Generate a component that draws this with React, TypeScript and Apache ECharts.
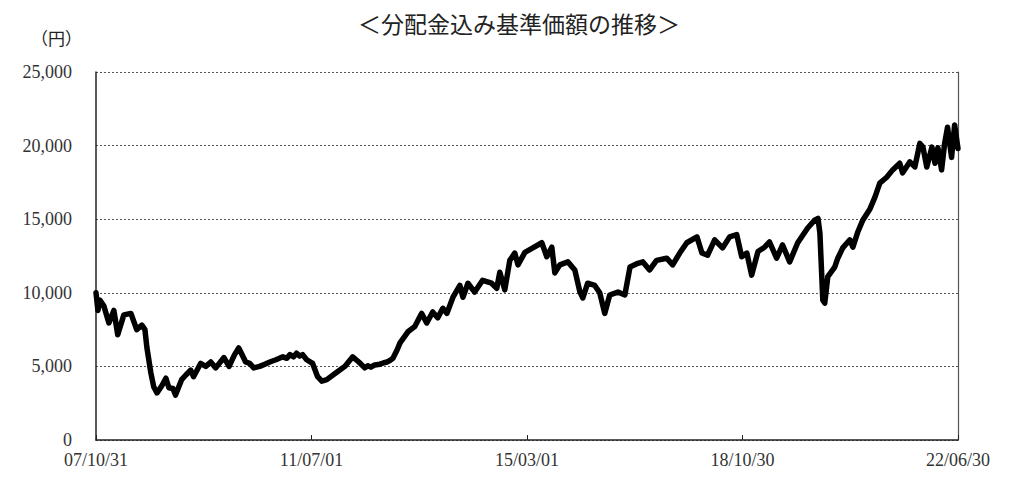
import React, { useEffect, useRef } from "react";
import * as echarts from "echarts";

const titleText = "＜分配金込み基準価額の推移＞";
const unitText = "（円）";

const dates: string[] = [
  "2007-10-31","2007-11-12","2007-11-25","2007-12-19","2008-01-19","2008-02-19","2008-03-14","2008-04-21",
  "2008-06-04","2008-07-10","2008-08-11","2008-08-30","2008-09-11","2008-10-06","2008-10-24","2008-11-13",
  "2008-12-14","2009-01-07","2009-01-26","2009-02-20","2009-03-08","2009-04-15","2009-05-10","2009-06-10",
  "2009-06-28","2009-08-11","2009-09-12","2009-10-13","2009-11-13","2010-01-03","2010-02-04","2010-03-10",
  "2010-04-05","2010-05-18","2010-06-12","2010-07-07","2010-08-13","2010-09-14","2010-10-15","2010-11-22",
  "2011-01-04","2011-01-29","2011-02-17","2011-03-12","2011-03-30","2011-04-18","2011-05-07","2011-06-01",
  "2011-07-08","2011-08-08","2011-09-03","2011-10-04","2011-12-05","2012-01-24","2012-03-13","2012-04-20",
  "2012-05-27","2012-06-15","2012-07-04","2012-07-28","2012-08-29","2012-09-23","2012-10-12","2012-10-30",
  "2012-11-18","2012-12-13","2013-01-01","2013-02-19","2013-04-02","2013-05-15","2013-06-16","2013-07-23",
  "2013-08-23","2013-09-24","2013-10-19","2013-11-26","2014-01-08","2014-01-27","2014-02-27","2014-04-10",
  "2014-05-29","2014-07-24","2014-08-25","2014-09-13","2014-10-14","2014-11-14","2014-12-15","2015-01-04",
  "2015-02-16","2015-04-06","2015-06-01","2015-07-02","2015-08-02","2015-08-21","2015-09-21","2015-11-10",
  "2015-12-23","2016-01-24","2016-02-11","2016-03-12","2016-04-25","2016-05-26","2016-06-26","2016-07-27",
  "2016-09-16","2016-10-29","2016-11-30","2017-01-18","2017-02-18","2017-04-01","2017-05-14","2017-07-16",
  "2017-08-22","2017-10-05","2017-11-18","2018-01-20","2018-02-20","2018-03-27","2018-05-10","2018-06-28",
  "2018-08-11","2018-09-24","2018-10-25","2018-11-26","2018-12-26","2019-02-03","2019-03-16","2019-04-16",
  "2019-05-30","2019-07-06","2019-08-19","2019-10-08","2019-12-09","2020-01-23","2020-02-11","2020-02-23",
  "2020-03-12","2020-03-24","2020-04-12","2020-05-25","2020-06-13","2020-07-14","2020-08-27","2020-09-15",
  "2020-10-16","2020-11-16","2020-12-30","2021-01-30","2021-03-01","2021-04-13","2021-05-20","2021-07-03",
  "2021-07-21","2021-09-04","2021-10-05","2021-11-05","2021-11-24","2021-12-18","2022-01-19","2022-02-07",
  "2022-02-25","2022-03-20","2022-04-08","2022-04-26","2022-05-21","2022-06-09","2022-06-30",
];

const navValues: number[] = [
  10000, 8800, 9500, 9100, 7950, 8800, 7150, 8500,
  8600, 7500, 7800, 7500, 6300, 4550, 3600, 3200,
  3700, 4200, 3550, 3500, 3050, 4100, 4400, 4750,
  4300, 5200, 5000, 5300, 4900, 5600, 5000, 5800,
  6250, 5300, 5200, 4900, 5000, 5150, 5300, 5450,
  5650, 5550, 5800, 5650, 5900, 5700, 5800, 5450,
  5200, 4300, 4000, 4100, 4600, 5000, 5650, 5300,
  4900, 5050, 4950, 5100, 5150, 5250, 5300, 5400,
  5550, 6100, 6600, 7350, 7700, 8600, 7950, 8700,
  8300, 8950, 8600, 9700, 10500, 9700, 10650, 10050,
  10850, 10650, 10300, 11400, 10200, 12200, 12700, 11900,
  12750, 13050, 13400, 12450, 13100, 11350, 11900, 12100,
  11550, 10050, 9650, 10650, 10500, 10000, 8600, 9850,
  10050, 9850, 11750, 12000, 12100, 11550, 12200, 12350,
  11900, 12700, 13400, 13800, 12700, 12550, 13600, 13050,
  13800, 13950, 12450, 12700, 11200, 12800, 13100, 13450,
  12350, 13250, 12100, 13400, 14400, 14950, 15050, 14050,
  9500, 9300, 11100, 11750, 12350, 13050, 13600, 13100,
  14150, 14950, 15700, 16500, 17450, 17850, 18350, 18800,
  18150, 18900, 18550, 20150, 19900, 18550, 19900, 18800,
  19850, 18350, 20150, 21250, 19200, 21400, 19800,
];

const xTickDates: string[] = ["2007-10-31", "2011-07-01", "2015-03-01", "2018-10-30", "2022-06-30"];
const yMin = 0;
const yMax = 25000;
const yStep = 5000;

function toTime(s: string): number {
  const [y, m, d] = s.split("-").map(Number);
  return Date.UTC(y, m - 1, d);
}
function pad(n: number): string {
  return (n < 10 ? "0" : "") + n;
}
function fmtDate(v: number): string {
  const d = new Date(v);
  return pad(d.getUTCFullYear() % 100) + "/" + pad(d.getUTCMonth() + 1) + "/" + pad(d.getUTCDate());
}

export default function App() {
  const ref = useRef<HTMLDivElement>(null);
  useEffect(() => {
    if (!ref.current) return;
    const chart = echarts.init(ref.current, undefined, { renderer: "svg" });
    const tickTimes = xTickDates.map(toTime);
    const serif = "'Liberation Serif', 'DejaVu Serif', serif";
    chart.setOption({
      animation: false,
      backgroundColor: "#ffffff",
      title: {
        text: titleText,
        left: 514,
        textAlign: "center",
        top: 6,
        textStyle: {
          fontFamily: "'Noto Sans CJK JP', sans-serif",
          fontSize: 23,
          fontWeight: "normal",
          color: "#222",
        },
      },
      graphic: [
        {
          type: "text",
          left: 31,
          top: 29,
          style: {
            text: unitText,
            fontFamily: "'Noto Sans CJK JP', sans-serif",
            fontSize: 17,
            fill: "#222",
          },
        },
      ],
      grid: { left: 96, right: 66, top: 72, bottom: 56, containLabel: false },
      xAxis: {
        type: "value",
        min: tickTimes[0],
        max: tickTimes[tickTimes.length - 1],
        axisLine: { show: true, onZero: false, lineStyle: { color: "#222", width: 1.5 } },
        axisTick: {
          show: true,
          inside: true,
          length: 5,
          customValues: tickTimes,
          lineStyle: { color: "#222" },
        },
        axisLabel: {
          customValues: tickTimes,
          formatter: (v: number) => fmtDate(v),
          fontFamily: serif,
          fontSize: 18,
          color: "#333",
          margin: 11,
          showMinLabel: true,
          showMaxLabel: true,
        },
        splitLine: { show: false },
      },
      yAxis: [
        {
          type: "value",
          min: yMin,
          max: yMax,
          interval: yStep,
          axisLine: { show: true, lineStyle: { color: "#222", width: 1.5 } },
          axisTick: { show: false },
          axisLabel: {
            formatter: (v: number) => v.toLocaleString("en-US"),
            fontFamily: serif,
            fontSize: 18,
            color: "#333",
            margin: 24,
          },
          splitLine: { show: true, lineStyle: { type: [2, 2], color: "#555", width: 1 } },
        },
        {
          type: "value",
          min: yMin,
          max: yMax,
          interval: yStep,
          position: "right",
          axisLine: { show: true, lineStyle: { color: "#555", width: 1.2 } },
          axisTick: { show: false },
          axisLabel: { show: false },
          splitLine: { show: false },
        },
      ],
      series: [
        {
          type: "line",
          data: dates.map((d, i) => [toTime(d), navValues[i]]),
          showSymbol: false,
          symbol: "none",
          lineStyle: { color: "#000", width: 5.5, join: "round", cap: "round" },
          smooth: false,
        },
      ],
    });
    return () => chart.dispose();
  }, []);
  return (
    <div
      ref={ref}
      style={{ position: "fixed", left: 0, top: 0, width: 1024, height: 496, background: "#fff" }}
    />
  );
}
